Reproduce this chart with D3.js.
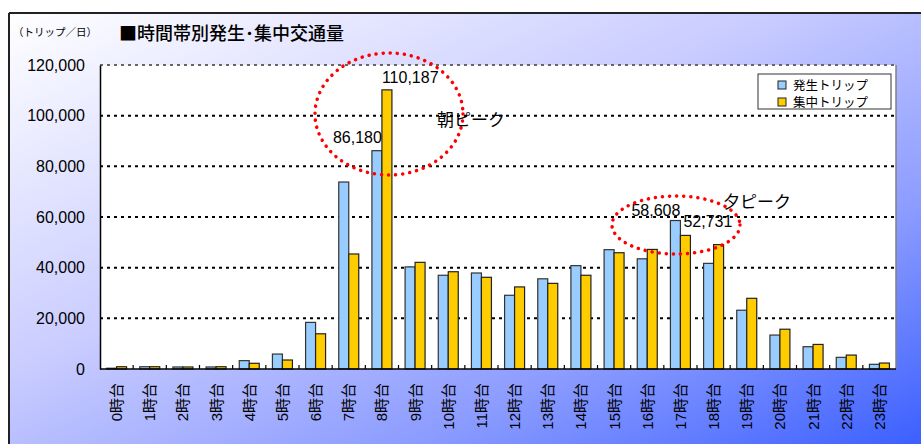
<!DOCTYPE html>
<html><head><meta charset="utf-8">
<script src="https://cdn.jsdelivr.net/npm/d3@7"></script>
<style>
html,body{margin:0;padding:0;background:#fff;}
svg{display:block;}
text{font-family:"Liberation Sans","Noto Sans CJK JP",sans-serif;fill:#000;}
.jp{font-family:"Noto Sans CJK JP","Liberation Sans",sans-serif;}
</style></head>
<body>
<svg id="chart" width="921" height="444"></svg>
<script>
const hours = ["0時台","1時台","2時台","3時台","4時台","5時台","6時台","7時台","8時台","9時台","10時台","11時台","12時台","13時台","14時台","15時台","16時台","17時台","18時台","19時台","20時台","21時台","22時台","23時台"];
const generated = [300,900,800,800,3300,5900,18400,73800,86180,40300,37000,37900,29100,35600,40800,47100,43500,58608,41700,23200,13400,8800,4600,1850];
const attracted = [900,900,800,900,2250,3550,13900,45400,110187,42100,38400,36200,32400,33800,37000,45900,47200,52731,49100,27900,15700,9700,5500,2350];
const seriesNames = ["発生トリップ","集中トリップ"];
const yTicks = [0,20000,40000,60000,80000,100000,120000];
const titleText = "■時間帯別発生･集中交通量";
const unitText = "（トリップ／日）";
const peakNotes = [{text:"朝ピーク"},{text:"夕ピーク"}];

const svg = d3.select("#chart");
const W = 921, H = 444;
const m = {left:100, top:65, right:896, bottom:369};

// background gradient
const defs = svg.append("defs");
const g = defs.append("linearGradient").attr("id","bg").attr("x1","0").attr("y1","0").attr("x2","1").attr("y2","1");
[[0,"#ffffff"],[0.42,"#c9ccff"],[0.72,"#8c9cff"],[1,"#3c60ff"]].forEach(s=>g.append("stop").attr("offset",s[0]).attr("stop-color",s[1]));
svg.append("rect").attr("x",0).attr("y",0).attr("width",W).attr("height",H).attr("fill","#fff");
svg.append("rect").attr("x",9).attr("y",13).attr("width",W-9).attr("height",H-13).attr("fill","url(#bg)");
svg.append("line").attr("x1",9).attr("x2",W).attr("y1",13).attr("y2",13).attr("stroke","#222").attr("stroke-width",2);
svg.append("line").attr("x1",9).attr("x2",9).attr("y1",13).attr("y2",H).attr("stroke","#222").attr("stroke-width",2);

const x = d3.scaleBand().domain(hours).range([m.left,m.right]).paddingInner(0).paddingOuter(0);
const y = d3.scaleLinear().domain([0,120000]).range([m.bottom,m.top]);
const barW = 10;

// plot area
svg.append("rect").attr("x",m.left).attr("y",m.top).attr("width",m.right-m.left).attr("height",m.bottom-m.top).attr("fill","#fff");
svg.append("line").attr("x1",m.right).attr("x2",m.right).attr("y1",m.top).attr("y2",m.bottom).attr("stroke","#808080").attr("stroke-width",1.5);

// grid
svg.append("g").selectAll("line").data(yTicks.filter(d=>d>0)).join("line")
  .attr("x1",m.left).attr("x2",m.right).attr("y1",d=>y(d)).attr("y2",d=>y(d))
  .attr("stroke",d=>d===120000?"#666":"#000").attr("stroke-width",2).attr("stroke-dasharray","3,4");

// y axis labels
const yAxis = d3.axisLeft(y).tickValues(yTicks).tickSize(0).tickPadding(15).tickFormat(d3.format(","));
const ya = svg.append("g").attr("transform",`translate(${m.left},0)`).call(yAxis);
ya.select(".domain").attr("stroke","#000").attr("stroke-width",1.5);
ya.selectAll("text").attr("font-size",16).attr("font-family","Liberation Sans, sans-serif").attr("fill","#000");

// bars
const bars = svg.append("g");
bars.selectAll("rect.gen").data(hours).join("rect").attr("class","gen")
  .attr("x",d=>x(d)+x.bandwidth()/2-barW).attr("width",barW)
  .attr("y",(d,i)=>y(generated[i])).attr("height",(d,i)=>y(0)-y(generated[i]))
  .attr("fill","#99CCFF").attr("stroke","#333").attr("stroke-width",1.2);
bars.selectAll("rect.att").data(hours).join("rect").attr("class","att")
  .attr("x",d=>x(d)+x.bandwidth()/2).attr("width",barW)
  .attr("y",(d,i)=>y(attracted[i])).attr("height",(d,i)=>y(0)-y(attracted[i]))
  .attr("fill","#FFCC00").attr("stroke","#222").attr("stroke-width",1.2);

// x axis
const xa = svg.append("g").attr("transform",`translate(0,${m.bottom})`);
xa.append("line").attr("x1",m.left).attr("x2",m.right).attr("stroke","#000").attr("stroke-width",1.5);
xa.selectAll("line.tk").data(hours.slice(1)).join("line").attr("class","tk")
  .attr("x1",d=>x(d)).attr("x2",d=>x(d)).attr("y1",0).attr("y2",-4).attr("stroke","#000").attr("stroke-width",1.2);
xa.selectAll("text").data(hours).join("text")
  .attr("transform",d=>`translate(${x(d)+x.bandwidth()/2+5.5},14) rotate(-90)`)
  .attr("text-anchor","end").attr("font-size",15).text(d=>d);

// titles
svg.append("text").attr("class","jp").attr("x",13).attr("y",36).attr("font-size",10.5).text(unitText);
svg.append("text").attr("class","jp").attr("x",119).attr("y",40).attr("font-size",18).attr("font-weight",500).text(titleText);

// legend
const lg = svg.append("g").attr("transform","translate(758,74)");
lg.append("rect").attr("width",133).attr("height",35).attr("fill","#fff").attr("stroke","#333").attr("stroke-width",1);
[["#99CCFF",seriesNames[0]],["#FFCC00",seriesNames[1]]].forEach((s,i)=>{
  lg.append("rect").attr("x",20).attr("y",7+i*17).attr("width",8).attr("height",8).attr("fill",s[0]).attr("stroke","#222").attr("stroke-width",1);
  lg.append("text").attr("class","jp").attr("x",35).attr("y",15.5+i*17.5).attr("font-size",12.5).text(s[1]);
});

// data labels
const fmt = d3.format(",");
const c = h => x(h)+x.bandwidth()/2;
svg.append("text").attr("x",c("8時台")).attr("y",y(attracted[8])-7).attr("font-size",16).attr("text-anchor","start").text(fmt(attracted[8]));
svg.append("text").attr("x",c("8時台")).attr("y",y(generated[8])-8).attr("font-size",16).attr("text-anchor","end").text(fmt(generated[8]));
svg.append("text").attr("x",c("17時台")).attr("y",y(generated[17])-5).attr("font-size",16).attr("text-anchor","end").text(fmt(generated[17]));
svg.append("text").attr("x",c("17時台")+3).attr("y",y(attracted[17])-8).attr("font-size",16).attr("text-anchor","start").text(fmt(attracted[17]));

// peak ellipses
const ell = (cx,cy,rx,ry)=>svg.append("ellipse").attr("cx",cx).attr("cy",cy).attr("rx",rx).attr("ry",ry)
  .attr("fill","none").attr("stroke","#ff0000").attr("stroke-width",3.5).attr("stroke-dasharray","0.1,7").attr("stroke-linecap","round");
ell(389,114,74,61);
ell(676,225,64,29);
svg.append("text").attr("class","jp").attr("x",437).attr("y",126).attr("font-size",17).text(peakNotes[0].text);
svg.append("text").attr("class","jp").attr("x",723).attr("y",208).attr("font-size",17).text(peakNotes[1].text);
</script>
</body></html>
